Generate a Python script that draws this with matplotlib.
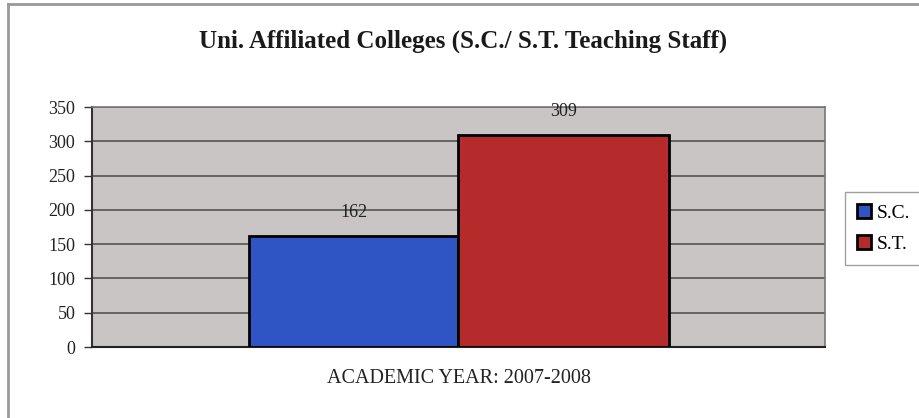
import matplotlib
matplotlib.use("Agg")
import matplotlib.pyplot as plt
from matplotlib.lines import Line2D

# Data
categories = ["ACADEMIC YEAR: 2007-2008"]
series_names = ["S.C.", "S.T."]
sc_values = [162]
st_values = [309]
y_ticks = [0, 50, 100, 150, 200, 250, 300, 350]
title = "Uni. Affiliated Colleges (S.C./ S.T. Teaching Staff)"

W, H = 920, 418
fig = plt.figure(figsize=(W / 100, H / 100), dpi=100)
fig.patch.set_facecolor("white")
serif = ["Liberation Serif", "DejaVu Serif"]

ax = fig.add_axes([92 / W, 1 - 347 / H, (825 - 92) / W, (347 - 107) / H])
ax.set_facecolor("#c9c5c5")

bw = 210 / 733
x0 = 0
b1 = ax.bar([x0 - bw / 2], sc_values, width=bw, color="#2f55c4", edgecolor="black", linewidth=2, label=series_names[0], zorder=3)
b2 = ax.bar([x0 + bw / 2], st_values, width=bw, color="#b52b2b", edgecolor="black", linewidth=2, label=series_names[1], zorder=3)

ax.set_xlim(-0.5, 0.5)
ax.set_ylim(0, 350)
ax.set_yticks(y_ticks)
ax.set_yticklabels([str(v) for v in y_ticks], fontfamily=serif, fontsize=13, color="#222222")
ax.set_xticks([])
ax.tick_params(axis="y", length=6, width=1, color="#333333", pad=6)
ax.yaxis.grid(True, color="#4a4a4a", linewidth=1.1, zorder=1)
ax.set_axisbelow(True)
for s in ["top", "right"]:
    ax.spines[s].set_color("#777777")
    ax.spines[s].set_linewidth(1.2)
ax.spines["left"].set_color("#333333")
ax.spines["left"].set_linewidth(1.5)
ax.spines["bottom"].set_color("#222222")
ax.spines["bottom"].set_linewidth(1.5)

for bars, vals in ((b1, sc_values), (b2, st_values)):
    for rect, v in zip(bars, vals):
        ax.annotate(str(v), (rect.get_x() + rect.get_width() / 2, v), xytext=(0, 11),
                    textcoords="offset points", ha="center", va="bottom",
                    fontfamily=serif, fontsize=13, color="#222222", zorder=5)

ax.set_xlabel(categories[0], fontfamily=serif, fontsize=14.5, color="#222222", labelpad=16)

fig.text(463 / W, 1 - 41 / H, title, ha="center", va="center", fontfamily=serif,
         fontweight="bold", fontsize=18, color="#1a1a1a")

leg = fig.legend(handles=[b1, b2], labels=series_names, loc="upper left",
                 bbox_to_anchor=(845 / W, 1 - 192 / H), frameon=True, fancybox=False,
                 prop={"family": serif, "size": 14}, handlelength=0.75, handleheight=0.75,
                 handletextpad=0.3, borderpad=0.6, labelspacing=0.7, borderaxespad=0)
leg.get_frame().set_edgecolor("#888888")
leg.get_frame().set_linewidth(1.0)

# chart outer frame (partial, left and top)
fig.add_artist(Line2D([8 / W, 8 / W], [0, 1 - 4 / H], transform=fig.transFigure, color="#999999", linewidth=2))
fig.add_artist(Line2D([8 / W, 1], [1 - 4 / H, 1 - 4 / H], transform=fig.transFigure, color="#999999", linewidth=2))

fig.savefig("out.png", dpi=100)
